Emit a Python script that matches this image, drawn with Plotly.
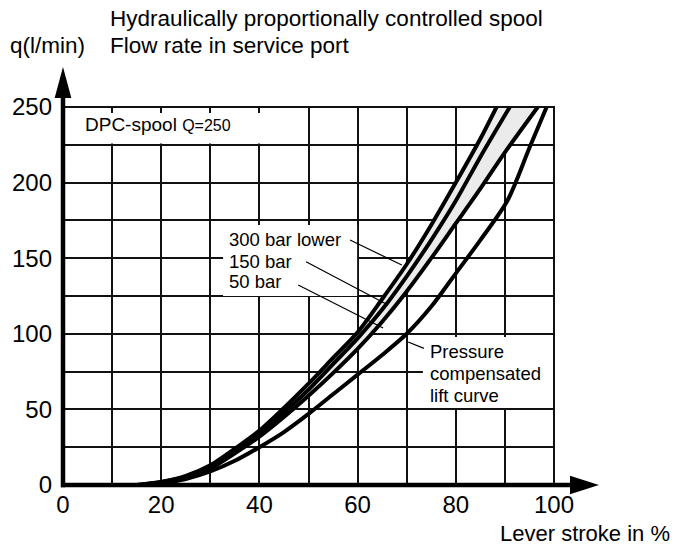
import plotly.graph_objects as go

# ---- data ----
x_ticks = [0, 10, 20, 30, 40, 50, 60, 70, 80, 90, 100]
x_ticktext = ["0", "", "20", "", "40", "", "60", "", "80", "", "100"]
y_ticks = [0, 25, 50, 75, 100, 125, 150, 175, 200, 225, 250]
y_ticktext = ["0", "", "50", "", "100", "", "150", "", "200", "", "250"]

# 300 bar lower
a_x = [15, 20, 25, 30, 35, 40, 45, 50, 55, 60, 65, 70, 75, 80, 85, 88.3]
a_q = [0, 2, 6, 13, 24, 36, 51, 67, 84, 101, 123, 146, 172, 200, 229, 250]
# 150 bar
b_x = [15, 20, 25, 30, 35, 40, 45, 50, 55, 60, 65, 70, 75, 80, 85, 91]
b_q = [0, 2, 5.5, 12, 22, 34, 48, 63, 80, 97, 116, 138, 162, 188, 217, 250]
# 50 bar
c_x = [16, 20, 25, 30, 35, 40, 45, 50, 55, 60, 65, 70, 75, 80, 85, 90, 96.7]
c_q = [0, 1.5, 5, 11, 21, 32, 45, 59, 74, 90, 108, 128, 150, 173, 196, 220, 250]
# pressure compensated lift curve
d_x = [18, 20, 25, 30, 35, 40, 45, 50, 55, 60, 65, 70, 75, 80, 85, 90.5, 95, 98.5]
d_q = [0, 1, 4, 9, 16, 25, 35, 47, 60, 73, 86, 100, 118, 140, 162, 188, 223, 250]

FONT = "Liberation Sans, Arial, Helvetica, sans-serif"

fig = go.Figure()

# grey band between 300 bar lower and 50 bar
fig.add_trace(go.Scatter(x=a_x, y=a_q, mode="lines", line=dict(width=0, shape="spline", smoothing=0.8),
                         hoverinfo="skip", showlegend=False))
fig.add_trace(go.Scatter(x=c_x, y=c_q, mode="lines", line=dict(width=0, shape="spline", smoothing=0.8),
                         fill="tonexty", fillcolor="#ebebeb", hoverinfo="skip", showlegend=False))

for xs, qs, nm in [(a_x, a_q, "300 bar lower"), (b_x, b_q, "150 bar"),
                   (c_x, c_q, "50 bar"), (d_x, d_q, "Pressure compensated lift curve")]:
    fig.add_trace(go.Scatter(x=xs, y=qs, mode="lines", name=nm, showlegend=False,
                             line=dict(color="black", width=4, shape="spline", smoothing=0.8)))

shapes = []
# white label boxes (above grid, below curves)
for x0, x1, y0, y1 in [(0.6, 49.5, 225.8, 246), (32.6, 59.9, 125, 172), (73.3, 100, 51, 97.9)]:
    shapes.append(dict(type="rect", xref="x", yref="y", x0=x0, x1=x1, y0=y0, y1=y1,
                       fillcolor="white", line=dict(width=0), layer="between"))
# plot frame (top / right border of grid)
shapes.append(dict(type="rect", xref="x domain", yref="y domain", x0=0, x1=1, y0=0, y1=1,
                   line=dict(color="#111", width=2), layer="above"))
# thick axes with arrows
shapes.append(dict(type="line", xref="x domain", yref="y domain", x0=-0.004, x1=1.04, y0=0, y1=0,
                   line=dict(color="black", width=4.5), layer="above"))
shapes.append(dict(type="line", xref="x domain", yref="y domain", x0=0, x1=0, y0=-0.006, y1=1.03,
                   line=dict(color="black", width=4.5), layer="above"))
shapes.append(dict(type="path", xref="x domain", yref="y domain",
                   path="M 1.0916 0 L 1.0326 0.0243 L 1.0326 -0.0243 Z",
                   fillcolor="black", line=dict(width=0), layer="above"))
shapes.append(dict(type="path", xref="x domain", yref="y domain",
                   path="M 0 1.1058 L 0.0170 1.0238 L -0.0170 1.0238 Z",
                   fillcolor="black", line=dict(width=0), layer="above"))
# pointer lines
for x0, y0, x1, y1 in [(58.45, 162.0, 69.0, 145.5), (49.5, 147.7, 66.2, 119.0),
                       (47.9, 132.3, 65.2, 103.8), (70.3, 94.6, 73.5, 90.4)]:
    shapes.append(dict(type="line", xref="x", yref="y", x0=x0, y0=y0, x1=x1, y1=y1,
                       line=dict(color="black", width=1.2), layer="above"))

annotations = []
def txt(text, x, y, size, xref="x", yref="y", xanchor="left"):
    annotations.append(dict(text=text, x=x, y=y, xref=xref, yref=yref, xanchor=xanchor,
                            yanchor="middle", showarrow=False,
                            font=dict(family=FONT, size=size, color="black")))

txt("DPC-spool <span style='font-size:16px'>Q=250</span>", 4.1, 238.1, 19)
txt("300 bar lower", 33.4, 162.7, 18.5)
txt("150 bar", 33.4, 148.1, 18.5)
txt("50 bar", 33.4, 134.5, 18.5)
txt("Pressure", 74.3, 88.2, 18.5)
txt("compensated", 74.3, 73.9, 18.5)
txt("lift curve", 74.3, 59.5, 18.5)
txt("Hydraulically proportionally controlled spool", 0.0916, 1.2354, 22.5, "paper", "paper")
txt("Flow rate in service port", 0.0916, 1.164, 22.5, "paper", "paper")
txt("q(l/min)", -0.112, 1.164, 22.5, "paper", "paper")
txt("Lever stroke in %", 1.24, -0.1296, 22, "paper", "paper", "right")

fig.update_layout(
    width=678, height=548,
    margin=dict(l=63, r=124, t=107, b=63),
    paper_bgcolor="white", plot_bgcolor="white",
    shapes=shapes, annotations=annotations,
    font=dict(family=FONT, size=24, color="black"),
    xaxis=dict(range=[0, 100], tickvals=x_ticks, ticktext=x_ticktext, showgrid=True,
               gridcolor="#111", gridwidth=2, zeroline=False, showline=False, ticks="",
               ticklabelstandoff=3, tickfont=dict(size=24)),
    yaxis=dict(range=[0, 250], tickvals=y_ticks, ticktext=y_ticktext, showgrid=True,
               gridcolor="#111", gridwidth=2, zeroline=False, showline=False, ticks="",
               ticklabelstandoff=10, tickfont=dict(size=24)),
)

fig.write_html("out.html", config={"displayModeBar": False},
               post_script="document.body.style.margin='0';")
